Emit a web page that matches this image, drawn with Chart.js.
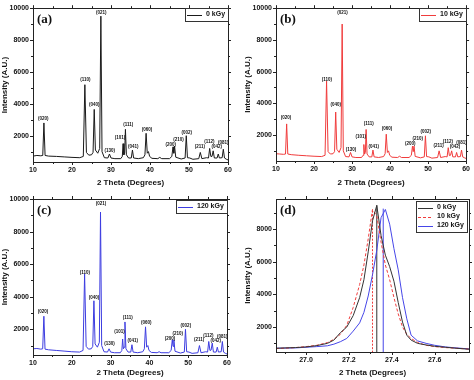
<!DOCTYPE html>
<html>
<head>
<style>
  body { margin: 0; background: #fff; }
  #wrap { position: relative; width: 474px; height: 380px; }
  canvas { position: absolute; }
</style>
</head>
<body>
<div id="wrap">
  <canvas id="pa" width="237" height="190" style="left:0px;top:0px"></canvas>
  <canvas id="pb" width="237" height="190" style="left:237px;top:0px"></canvas>
  <canvas id="pc" width="237" height="190" style="left:0px;top:190px"></canvas>
  <canvas id="pd" width="237" height="190" style="left:237px;top:190px"></canvas>
</div>

<script src="https://cdn.jsdelivr.net/npm/chart.js"></script>
<script>
// 2 theta positions shared by the three full patterns (a, b, c)
const theta = [10, 11, 12, 12.5, 12.8, 13.1, 14, 16, 18, 20,
  22, 22.9, 23.3, 23.7, 24.3, 25.0, 25.4, 25.7, 26.0, 26.6,
  27.1, 27.4, 27.7, 28.3, 29.2, 29.6, 30.0, 31, 32.5, 32.9,
  33.1, 33.3, 33.5, 33.7, 33.95, 34.5, 35.2, 35.5, 35.8, 37,
  38.3, 38.7, 39.0, 39.3, 39.6, 39.9, 40.5, 42, 42.5, 43,
  45, 45.6, 45.9, 46.1, 46.3, 46.6, 48, 49.0, 49.3, 49.6,
  50.2, 51, 52.5, 52.9, 53.3, 54.5, 55.0, 55.3, 55.6, 55.9,
  56.2, 56.5, 57.2, 57.5, 57.8, 58.5, 58.8, 59.1, 59.6, 60];

const int0kGy = [720, 760, 740, 760, 2800, 760, 720, 700, 670, 640,
  620, 700, 5200, 950, 780, 800, 950, 3650, 1100, 900,
  1200, 9500, 1000, 620, 600, 850, 600, 560, 560, 700,
  1500, 800, 900, 2400, 800, 600, 600, 1100, 600, 560,
  620, 800, 2150, 900, 1000, 700, 580, 560, 640, 560,
  560, 700, 1300, 900, 1350, 650, 540, 600, 2000, 620,
  600, 520, 560, 950, 560, 620, 600, 1200, 700, 700,
  1050, 600, 600, 850, 600, 620, 1150, 600, 520, 480];

const int10kGy = [820, 800, 780, 800, 2700, 800, 760, 720, 690, 660,
  640, 720, 5400, 950, 800, 820, 950, 3450, 1100, 900,
  1200, 9000, 1000, 640, 620, 900, 620, 580, 580, 720,
  1400, 800, 900, 2350, 800, 620, 620, 1050, 620, 580,
  640, 820, 2050, 900, 1000, 720, 600, 580, 660, 580,
  580, 720, 1300, 950, 1300, 650, 560, 620, 1950, 640,
  620, 540, 580, 1000, 580, 640, 620, 1200, 700, 720,
  1000, 620, 620, 900, 620, 640, 1050, 620, 560, 520];

const int120kGy = [800, 820, 780, 800, 2800, 780, 740, 700, 660, 620,
  600, 700, 5400, 950, 780, 800, 950, 3750, 1100, 900,
  1200, 9200, 1000, 620, 600, 800, 600, 560, 560, 700,
  1400, 800, 900, 2450, 800, 600, 600, 1050, 600, 560,
  620, 800, 2150, 900, 1000, 700, 580, 560, 620, 560,
  560, 700, 1350, 950, 1350, 650, 540, 600, 2000, 620,
  600, 520, 560, 1000, 560, 620, 600, 1250, 700, 720,
  1150, 600, 600, 900, 600, 620, 1250, 600, 520, 480];

// Miller index tags
const peakTags = ['(020)', '(110)', '(040)', '(021)', '(130)', '(101)', '(111)', '(041)',
  '(060)', '(200)', '(210)', '(002)', '(211)', '(112)', '(042)', '(081)'];
const tagTheta = [12.6, 23.4, 25.7, 27.5, 29.7, 32.3, 34.4, 35.7,
  39.2, 45.3, 47.3, 49.4, 52.8, 55.2, 57.1, 58.8];
const tagIntensity = [3080, 5500, 3935, 9735, 1080, 1860, 2710, 1285,
  2370, 1430, 1740, 2200, 1330, 1590, 1285, 1530];

// (d) zoom on the (021) reflection
const thetaD = [26.86, 26.95, 27.0, 27.05, 27.1, 27.13, 27.16, 27.19, 27.22, 27.25,
  27.27, 27.29, 27.31, 27.33, 27.35, 27.37, 27.39, 27.41, 27.43, 27.45,
  27.47, 27.49, 27.52, 27.56, 27.6, 27.65, 27.7, 27.76];
const zoom0kGy = [700, 740, 780, 860, 1000, 1200, 1650, 2000, 2700, 3800,
  4900, 6600, 8500, 9450, 7600, 6400, 5700, 4800, 3500, 2300,
  1500, 1200, 1000, 900, 820, 760, 700, 640];
const zoom10kGy = [680, 740, 800, 880, 1050, 1250, 1550, 2100, 3200, 4600,
  5800, 7400, 9200, 8800, 7200, 5800, 4900, 3800, 2800, 2000,
  1550, 1300, 1050, 880, 800, 740, 700, 650];
const zoom120kGy = [700, 720, 760, 800, 850, 950, 1100, 1300, 1750, 2250,
  2900, 3900, 5200, 6700, 8700, 9200, 8300, 6800, 5500, 3800,
  2500, 1500, 1150, 1000, 880, 780, 720, 660];
const peakTheta = [27.33, 27.31, 27.36];
const peakTop = [9450, 9200, 9250];

const xTicksWide = [10, 20, 30, 40, 50, 60];
const yTicksWide = [2000, 4000, 6000, 8000, 10000];
const xTicksZoom = [27.0, 27.2, 27.4, 27.6];
const yTicksZoom = [2000, 4000, 6000, 8000];

const BLACK = '#1a1a1a', RED = '#f03c3c', BLUE = '#3c3ce0';
const SANS = '"Liberation Sans", Arial, sans-serif';

function pts(xs, ys) { return xs.map((v, i) => ({ x: v, y: ys[i] })); }

// boxed frame with outward major/minor ticks on all four sides
const frame = {
  id: 'frame',
  afterDatasetsDraw(chart) {
    const { ctx, chartArea: a, scales: { x, y } } = chart;
    ctx.save();
    ctx.strokeStyle = '#222';
    ctx.lineWidth = 1;
    const seg = (x1, y1, x2, y2) => { ctx.beginPath(); ctx.moveTo(x1, y1); ctx.lineTo(x2, y2); ctx.stroke(); };
    const withMinor = (s) => {
      const v = s.ticks.map(t => t.value), out = [];
      v.forEach((t, i) => { out.push([t, 3]); if (i < v.length - 1) out.push([(t + v[i + 1]) / 2, 2]); });
      const st = v[1] - v[0];
      if (v[0] - st / 2 >= s.min) out.push([v[0] - st / 2, 2]);
      if (v[v.length - 1] + st / 2 <= s.max) out.push([v[v.length - 1] + st / 2, 2]);
      return out;
    };
    withMinor(x).forEach(([v, len]) => {
      const px = Math.round(x.getPixelForValue(v)) + 0.5;
      seg(px, a.bottom, px, a.bottom + len);
      seg(px, a.top, px, a.top - len);
    });
    withMinor(y).forEach(([v, len]) => {
      const py = Math.round(y.getPixelForValue(v)) + 0.5;
      seg(a.left, py, a.left - len, py);
      seg(a.right, py, a.right + len, py);
    });
    ctx.strokeRect(Math.round(a.left) + 0.5, Math.round(a.top) + 0.5,
      Math.round(a.right - a.left), Math.round(a.bottom - a.top));
    ctx.restore();
  }
};

// panel letter, e.g. (a)
const tag = {
  id: 'tag',
  afterDraw(chart, args, o) {
    const { ctx, chartArea: a } = chart;
    ctx.save();
    ctx.font = 'bold 13px "Liberation Serif", "Times New Roman", serif';
    ctx.fillStyle = '#111';
    ctx.textBaseline = 'top';
    ctx.fillText(o.text, a.left + 4, a.top + 5);
    ctx.restore();
  }
};

// Origin-like legend box in the top-right corner of the plot
const box = {
  id: 'box',
  afterDraw(chart, args, o) {
    const sets = chart.data.datasets.filter(d => d.label);
    const { ctx, chartArea: a } = chart;
    ctx.save();
    ctx.font = 'bold 7px ' + SANS;
    const tw = Math.max(...sets.map(d => ctx.measureText(d.label).width));
    const rowH = 9, lineLen = 15;
    const w = 2 + lineLen + 4 + tw + 3, h = sets.length * rowH + 4;
    const x0 = Math.round(a.right - w - (o.dx || 0)), y0 = Math.round(a.top + (o.dy || 0));
    ctx.fillStyle = '#fff';
    ctx.fillRect(x0, y0, w, h);
    ctx.strokeStyle = '#333';
    ctx.lineWidth = 1;
    ctx.strokeRect(x0 + 0.5, y0 + 0.5, Math.round(w), h);
    sets.forEach((d, i) => {
      const cy = y0 + 2 + rowH * i + 4.5;
      ctx.strokeStyle = d.borderColor;
      ctx.setLineDash(d.borderDash || []);
      ctx.beginPath();
      ctx.moveTo(x0 + 2, Math.round(cy) + 0.5);
      ctx.lineTo(x0 + 2 + lineLen, Math.round(cy) + 0.5);
      ctx.stroke();
      ctx.setLineDash([]);
      ctx.fillStyle = '#111';
      ctx.textBaseline = 'middle';
      ctx.fillText(d.label, x0 + 2 + lineLen + 4, cy);
    });
    ctx.restore();
  }
};

// Miller index labels placed in data coordinates
const peaks = {
  id: 'peaks',
  afterDraw(chart, args, o) {
    if (!o.show) return;
    const { ctx, scales: { x, y } } = chart;
    ctx.save();
    ctx.font = 'bold 4.5px ' + SANS;
    ctx.fillStyle = '#111';
    ctx.textAlign = 'center';
    ctx.textBaseline = 'middle';
    peakTags.forEach((t, i) => ctx.fillText(t, x.getPixelForValue(tagTheta[i]), y.getPixelForValue(tagIntensity[i])));
    ctx.restore();
  }
};

function panel(id, o) {
  const tickFont = { family: SANS, size: 7, weight: 'bold' };
  const titleFont = { family: SANS, size: 8, weight: 'bold' };
  new Chart(document.getElementById(id), {
    type: 'scatter',
    data: { datasets: o.datasets },
    options: {
      responsive: false,
      animation: false,
      layout: { padding: o.pad },
      elements: { point: { radius: 0 }, line: { borderWidth: 1, tension: 0 } },
      plugins: {
        legend: { display: false },
        tooltip: { enabled: false },
        tag: { text: o.tag },
        box: o.box,
        peaks: { show: o.peaks }
      },
      scales: {
        x: {
          type: 'linear', min: o.xMin, max: o.xMax,
          grid: { display: false, drawTicks: false }, border: { display: false },
          afterBuildTicks: s => { s.ticks = o.xTicks.map(v => ({ value: v })); },
          afterFit: s => { s.height = o.xH; },
          ticks: { padding: 4, font: tickFont, color: '#111', callback: o.xFmt },
          title: { display: true, text: '2 Theta (Degrees)', font: titleFont, color: '#111', padding: { top: 0, bottom: 2.5 } }
        },
        y: {
          type: 'linear', min: o.yMin, max: o.yMax,
          grid: { display: false, drawTicks: false }, border: { display: false },
          afterBuildTicks: s => { s.ticks = o.yTicks.map(v => ({ value: v })); },
          afterFit: s => { s.width = o.yW; },
          ticks: { padding: 4, font: tickFont, color: '#111', callback: v => String(v) },
          title: { display: true, text: 'Intensity (A.U.)', font: titleFont, color: '#111', padding: { top: o.yTitlePad, bottom: 0 } }
        }
      }
    },
    plugins: [frame, tag, box, peaks]
  });
}

const line = (label, xs, ys, color, dash) => ({
  label, data: pts(xs, ys), showLine: true, borderColor: color, borderWidth: 1,
  borderDash: dash || [], pointRadius: 0
});

panel('pa', {
  datasets: [line('0 kGy', theta, int0kGy, BLACK)],
  tag: '(a)', peaks: true, box: { dx: 0, dy: 0 },
  pad: { top: 4, right: 9, left: 0, bottom: 0 }, yW: 33, xH: 28, yTitlePad: 0,
  xMin: 10, xMax: 60, yMin: 350, yMax: 10000,
  xTicks: xTicksWide, yTicks: yTicksWide, xFmt: v => String(v)
});

panel('pb', {
  datasets: [line('10 kGy', theta, int10kGy, RED)],
  tag: '(b)', peaks: true, box: { dx: 0, dy: 0 },
  pad: { top: 4, right: 5, left: 0, bottom: 0 }, yW: 39, xH: 29, yTitlePad: 6,
  xMin: 10, xMax: 60, yMin: 360, yMax: 10000,
  xTicks: xTicksWide, yTicks: yTicksWide, xFmt: v => String(v)
});

panel('pc', {
  datasets: [line('120 kGy', theta, int120kGy, BLUE)],
  tag: '(c)', peaks: true, box: { dx: 0, dy: 1 },
  pad: { top: 9, right: 10, left: 0, bottom: 0 }, yW: 33, xH: 25, yTitlePad: 0,
  xMin: 10, xMax: 60, yMin: 420, yMax: 10000,
  xTicks: xTicksWide, yTicks: yTicksWide, xFmt: v => String(v)
});

panel('pd', {
  datasets: [
    line('0 kGy', thetaD, zoom0kGy, '#333333'),
    line('10 kGy', thetaD, zoom10kGy, RED, [3, 2]),
    line('120 kGy', thetaD, zoom120kGy, '#4646e8'),
    line('', [peakTheta[0], peakTheta[0]], [0, peakTop[0]], '#333333'),
    line('', [peakTheta[1], peakTheta[1]], [0, peakTop[1]], RED, [2, 1.5]),
    line('', [peakTheta[2], peakTheta[2]], [0, peakTop[2]], '#4646e8')
  ],
  tag: '(d)', peaks: false, box: { dx: 2, dy: 2 },
  pad: { top: 9, right: 5, left: 0, bottom: 0 }, yW: 39, xH: 28, yTitlePad: 6,
  xMin: 26.86, xMax: 27.76, yMin: 470, yMax: 9840,
  xTicks: xTicksZoom, yTicks: yTicksZoom, xFmt: v => v.toFixed(1)
});
</script>
</body>
</html>
